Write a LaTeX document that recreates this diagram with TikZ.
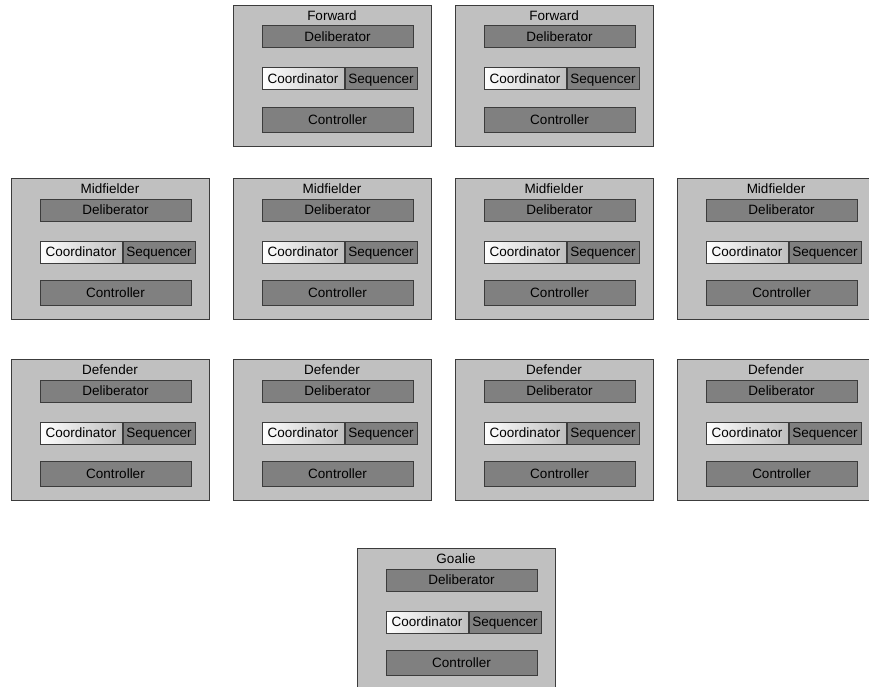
\documentclass[tikz,border=0pt]{standalone}
\usepackage{fontspec}
\setmainfont{Liberation Sans}
\usetikzlibrary{positioning}
\definecolor{panel}{HTML}{C0C0C0}
\definecolor{layer}{HTML}{808080}
\definecolor{edge}{HTML}{3C3C3C}

\begin{document}
\begin{tikzpicture}[
  x=1pt,y=-1pt,
  every node/.style={font=\fontsize{13.5}{16}\selectfont,inner sep=0pt,
    text height=9.7pt,text depth=0pt},
  player/.style={draw=edge,line width=1pt,fill=panel,minimum width=198,
    minimum height=141,anchor=north west},
  layer/.style={draw=edge,line width=1pt,fill=layer,minimum width=#1,
    minimum height=22},
  layer/.default=151,
  coord/.style={draw=edge,line width=1pt,left color=white,right color=black!25,
    minimum width=82,minimum height=22},
]
  \useasboundingbox (0,0) rectangle (869,687);
  \foreach \id/\x/\y/\role in {fw1/233/5/Forward,fw2/455/5/Forward,
      mf1/11/178/Midfielder,mf2/233/178/Midfielder,mf3/455/178/Midfielder,mf4/677/178/Midfielder,
      df1/11/359/Defender,df2/233/359/Defender,df3/455/359/Defender,df4/677/359/Defender,
      gk/357/548/Goalie}{
    \begin{scope}[shift={(\x,\y)}]
      \node[player] (\id-box) at (0,0) {};
      \node (\id-title) at (99,11) {\role};
      \node[layer] (\id-delib) at (104.5,32) {Deliberator};
      \node[coord] (\id-coord) at (70,74) {Coordinator};
      \node[layer=72,right=0pt of \id-coord] (\id-seq) {Sequencer};
      \node[layer,minimum height=25] (\id-ctrl) at (104.5,115) {Controller};
    \end{scope}
  }
\end{tikzpicture}
\end{document}
